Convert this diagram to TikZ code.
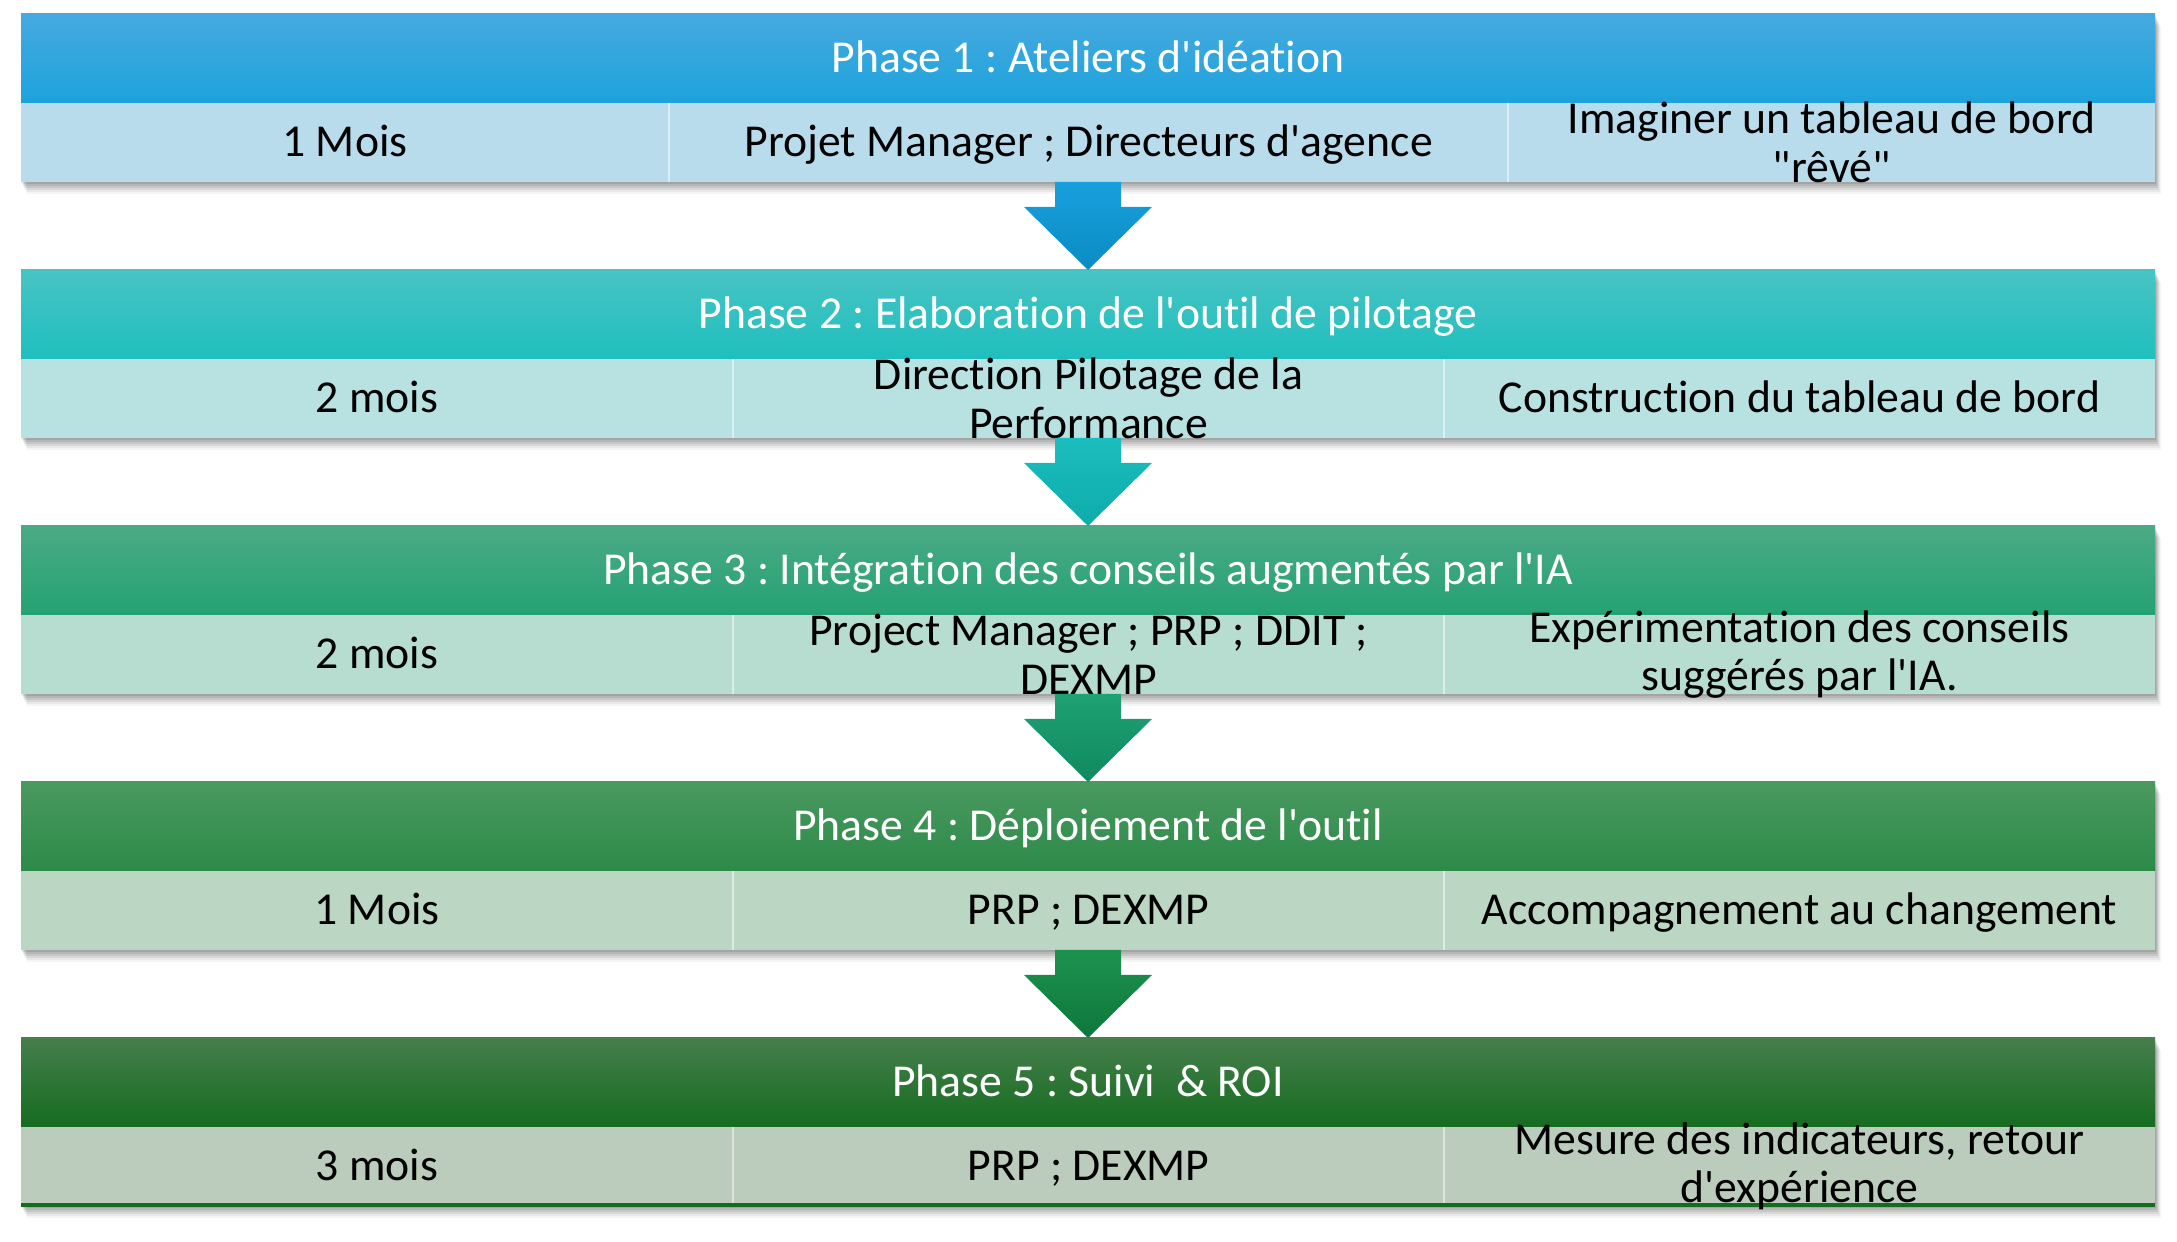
\documentclass[tikz,border=0pt]{standalone}
\usepackage{fontspec}
\setmainfont{Carlito}[Ligatures={TeXOff,NoCommon}]
\frenchspacing

\definecolor{bleuA}{HTML}{46AADF}
\definecolor{bleuB}{HTML}{1DA2DC}
\definecolor{bleuC}{HTML}{B8DCEC}
\definecolor{turqA}{HTML}{48C3C3}
\definecolor{turqB}{HTML}{1FBFBF}
\definecolor{turqC}{HTML}{B8E2E2}
\definecolor{emerA}{HTML}{4BAA85}
\definecolor{emerB}{HTML}{24A273}
\definecolor{emerC}{HTML}{B7DDD1}
\definecolor{vertA}{HTML}{4A9960}
\definecolor{vertB}{HTML}{2C8A48}
\definecolor{vertC}{HTML}{BBD7C4}
\definecolor{foncA}{HTML}{467E4C}
\definecolor{foncB}{HTML}{156C1F}
\definecolor{foncC}{HTML}{BBCBBC}
\definecolor{fleche1}{HTML}{0C9BDA}
\definecolor{fleche2}{HTML}{10BABA}
\definecolor{fleche3}{HTML}{129C6C}
\definecolor{fleche4}{HTML}{118C46}

\tikzset{
	cell/.style={font=\fontsize{13}{13.8}\selectfont, align=center, inner sep=0pt},
	ligne/.style={cell, text height=11pt, text depth=2.8pt},
	phase/.style={ligne, text=white},
	ombre/.style={
		preaction={fill=black, opacity=0.09, transform canvas={xshift=0.01cm, yshift=-0.02cm}},
		preaction={fill=black, opacity=0.09, transform canvas={xshift=0.02cm, yshift=-0.04cm}},
		preaction={fill=black, opacity=0.08, transform canvas={xshift=0.03cm, yshift=-0.06cm}},
		preaction={fill=black, opacity=0.07, transform canvas={xshift=0.04cm, yshift=-0.08cm}},
		preaction={fill=black, opacity=0.05, transform canvas={xshift=0.05cm, yshift=-0.10cm}},
		preaction={fill=black, opacity=0.04, transform canvas={xshift=0.06cm, yshift=-0.12cm}}},
	sep/.style={white, opacity=0.5, line width=0.6pt}
}

\begin{document}
\begin{tikzpicture}
						\useasboundingbox (0,0) rectangle (21.77,12.42);
						
						% phase 1
						\fill[white, ombre] (0.21,12.28) rectangle (21.55,10.60);
						\shade[top color=bleuA, bottom color=bleuB] (0.21,12.28) rectangle (21.55,11.39);
						\fill[bleuC] (0.21,11.39) rectangle (21.55,10.60);
						\draw[sep] (6.69,11.39) -- (6.69,10.60);
						\draw[sep] (15.08,11.39) -- (15.08,10.60);
						\path (10.88,11.835) node[phase] (titre1) {Phase 1 : Ateliers d'idéation};
						\path (3.45,10.995) node[ligne] (duree1) {1 Mois};
						\path (10.885,10.995) node[ligne] (qui1) {Projet Manager ; Directeurs d'agence};
						\path (18.315,10.995) node[cell] (quoi1) {Imaginer un tableau de bord\\"rêvé"};
						
						% phase 2
						\fill[white, ombre] (0.21,9.72) rectangle (21.55,8.04);
						\shade[top color=turqA, bottom color=turqB] (0.21,9.72) rectangle (21.55,8.83);
						\fill[turqC] (0.21,8.83) rectangle (21.55,8.04);
						\draw[sep] (7.33,8.83) -- (7.33,8.04);
						\draw[sep] (14.44,8.83) -- (14.44,8.04);
						\path (10.88,9.275) node[phase] (titre2) {Phase 2 : Elaboration de l'outil de pilotage};
						\path (3.77,8.435) node[ligne] (duree2) {2 mois};
						\path (10.885,8.435) node[cell] (qui2) {Direction Pilotage de la\\Performance};
						\path (17.995,8.435) node[ligne] (quoi2) {Construction du tableau de bord};
						
						% phase 3
						\fill[white, ombre] (0.21,7.16) rectangle (21.55,5.48);
						\shade[top color=emerA, bottom color=emerB] (0.21,7.16) rectangle (21.55,6.27);
						\fill[emerC] (0.21,6.27) rectangle (21.55,5.48);
						\draw[sep] (7.33,6.27) -- (7.33,5.48);
						\draw[sep] (14.44,6.27) -- (14.44,5.48);
						\path (10.88,6.715) node[phase] (titre3) {Phase 3 : Intégration des conseils augmentés par l'IA};
						\path (3.77,5.875) node[ligne] (duree3) {2 mois};
						\path (10.885,5.875) node[cell] (qui3) {Project Manager ; PRP ; DDIT ;\\DEXMP};
						\path (17.995,5.875) node[cell] (quoi3) {Expérimentation des conseils\\suggérés par l'IA.};
						
						% phase 4
						\fill[white, ombre] (0.21,4.60) rectangle (21.55,2.92);
						\shade[top color=vertA, bottom color=vertB] (0.21,4.60) rectangle (21.55,3.71);
						\fill[vertC] (0.21,3.71) rectangle (21.55,2.92);
						\draw[sep] (7.33,3.71) -- (7.33,2.92);
						\draw[sep] (14.44,3.71) -- (14.44,2.92);
						\path (10.88,4.155) node[phase] (titre4) {Phase 4 : Déploiement de l'outil};
						\path (3.77,3.315) node[ligne] (duree4) {1 Mois};
						\path (10.885,3.315) node[ligne] (qui4) {PRP ; DEXMP};
						\path (17.995,3.315) node[ligne] (quoi4) {Accompagnement au changement};
						
						% phase 5
						\fill[white, ombre] (0.21,2.04) rectangle (21.55,0.36);
						\shade[top color=foncA, bottom color=foncB] (0.21,2.04) rectangle (21.55,1.15);
						\fill[foncC] (0.21,1.15) rectangle (21.55,0.36);
						\draw[sep] (7.33,1.15) -- (7.33,0.36);
						\draw[sep] (14.44,1.15) -- (14.44,0.36);
						\draw[foncB, line width=1.2pt] (0.21,0.37) -- (21.55,0.37);
						\path (10.88,1.595) node[phase] (titre5) {Phase 5 : Suivi\ \ \& ROI};
						\path (3.77,0.755) node[ligne] (duree5) {3 mois};
						\path (10.885,0.755) node[ligne] (qui5) {PRP ; DEXMP};
						\path (17.995,0.755) node[cell] (quoi5) {Mesure des indicateurs, retour\\d'expérience};
						
						% fleches
						\shade[top color=fleche1!95!white, bottom color=fleche1!90!black] (10.55,10.60) -- (10.55,10.35) -- (10.24,10.35) -- (10.88,9.72) -- (11.52,10.35) -- (11.21,10.35) -- (11.21,10.60) -- cycle;
						\shade[top color=fleche2!95!white, bottom color=fleche2!92!black] (10.55,8.04) -- (10.55,7.79) -- (10.24,7.79) -- (10.88,7.16) -- (11.52,7.79) -- (11.21,7.79) -- (11.21,8.04) -- cycle;
						\shade[top color=fleche3!95!white, bottom color=fleche3!88!black] (10.55,5.48) -- (10.55,5.23) -- (10.24,5.23) -- (10.88,4.60) -- (11.52,5.23) -- (11.21,5.23) -- (11.21,5.48) -- cycle;
						\shade[top color=fleche4!95!white, bottom color=fleche4!85!black] (10.55,2.92) -- (10.55,2.67) -- (10.24,2.67) -- (10.88,2.04) -- (11.52,2.67) -- (11.21,2.67) -- (11.21,2.92) -- cycle;
					\end{tikzpicture}
\end{document}
